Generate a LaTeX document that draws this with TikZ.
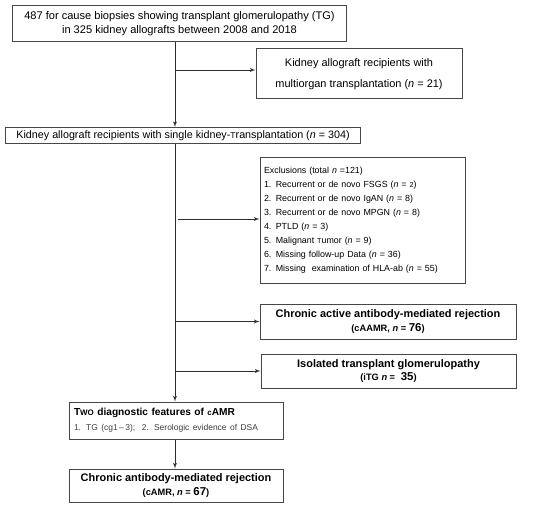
\documentclass[tikz,border=0pt]{standalone}
\usepackage{fontspec}
\setmainfont{Liberation Sans}
\usetikzlibrary{arrows,positioning,calc}
\definecolor{boxline}{RGB}{70,70,70}
\definecolor{arrowline}{RGB}{45,45,45}
\definecolor{subtext}{RGB}{60,60,60}
\newcommand{\nn}{\textit{n}}
\newcommand{\smc}[2][8]{{\fontsize{#1}{0}\selectfont #2}}
\newcommand{\fbnode}[6][]{
  \node [box,minimum width=#3,minimum height=#4,#1] (#6) at #2 {#5};
}

\begin{document}
\begin{tikzpicture}[x=1bp,y=-1bp,>=latex',
  box/.style={draw=boxline,line width=1bp,inner sep=0pt,align=center},
  link/.style={draw=arrowline,line width=0.9bp,->}]
  \useasboundingbox (0,0) rectangle (550,507);

  \fbnode[font=\fontsize{11.1}{14}\selectfont]{(179.5,24)}{333bp}{36bp}{487 for cause biopsies showing transplant glomerulopathy (TG)\\in 325 kidney allografts between 2008 and 2018}{biopsy}
  \fbnode[font=\fontsize{11}{21}\selectfont]{(359,74)}{206bp}{50bp}{Kidney allograft recipients with\\multiorgan transplantation (\nn{} = 21)}{multi}
  \fbnode[font=\fontsize{10.8}{12}\selectfont]{(183,135.5)}{354bp}{16bp}{Kidney allograft recipients with single kidney-\smc[8.5]{T}ransplantation (\nn{} = 304)}{single}
  \fbnode[font=\fontsize{8.9}{14}\selectfont,align=left,text width=197bp,inner xsep=4bp]{(362.5,220.5)}{205bp}{125bp}{Exclusions (total \nn{} =121)\\
    1. Recurrent or de novo FSGS (\nn{} = \smc[7.2]{2})\\
    2. Recurrent or de novo IgAN (\nn{} = 8)\\
    3. Recurrent or de novo MPGN (\nn{} = 8)\\
    4. PTLD (\nn{} = 3)\\
    5. Malignant \smc[7.2]{T}umor (\nn{} = 9)\\
    6. Missing follow-up Data (\nn{} = 36)\\
    7. Missing\ \ examination of HLA-ab (\nn{} = 55)}{excl}
  \fbnode[font=\fontsize{11}{14}\selectfont\bfseries]{(388,321.5)}{256bp}{35bp}{Chronic active antibody-mediated rejection\\{\fontsize{9.3}{14}\selectfont (cAAMR, \nn{} = }\fontsize{11.5}{14}\selectfont 76{\fontsize{9.3}{14}\selectfont )}}{caamr}
  \fbnode[font=\fontsize{11}{14}\selectfont\bfseries]{(388.5,371)}{255bp}{34bp}{Isolated transplant glomerulopathy\\{\fontsize{9.3}{14}\selectfont (iTG \nn{} = }\ \fontsize{11.5}{14}\selectfont 35{\fontsize{9.3}{14}\selectfont )}}{itg}
  \fbnode[font=\fontsize{10.2}{15}\selectfont,align=left,text width=204bp,inner xsep=5bp]{(176,420.5)}{214bp}{37bp}{\textbf{T\smc[8]{WO} diagnostic features of \smc[8]{c}AMR}\\
    {\fontsize{8.5}{15}\selectfont\color{subtext}1. TG (cg1\,--\,3);\ \ 2. Serologic evidence of DSA}}{feat}
  \fbnode[font=\fontsize{11}{14}\selectfont\bfseries]{(176,485.5)}{214bp}{33bp}{Chronic antibody-mediated rejection\\{\fontsize{9.3}{14}\selectfont (cAMR, \nn{} = }\fontsize{11.5}{14}\selectfont 67{\fontsize{9.3}{14}\selectfont )}}{camr}

  \coordinate (trunk) at (175,0);
  \draw [link] (biopsy.south -| trunk) -- (single.north -| trunk);
  \draw [link] ([yshift=4bp]multi.west -| trunk) -- ([yshift=4bp]multi.west);
  \draw [link] (single.south -| trunk) -- (feat.north -| trunk);
  \draw [link] ([xshift=3bp,yshift=1.5bp]excl.west -| trunk) -- ([yshift=1.5bp]excl.west);
  \draw [link] (caamr.west -| trunk) -- (caamr.west);
  \draw [link] (itg.west -| trunk) -- (itg.west);
  \draw [link] (feat.south -| trunk) -- (camr.north -| trunk);
\end{tikzpicture}
\end{document}
